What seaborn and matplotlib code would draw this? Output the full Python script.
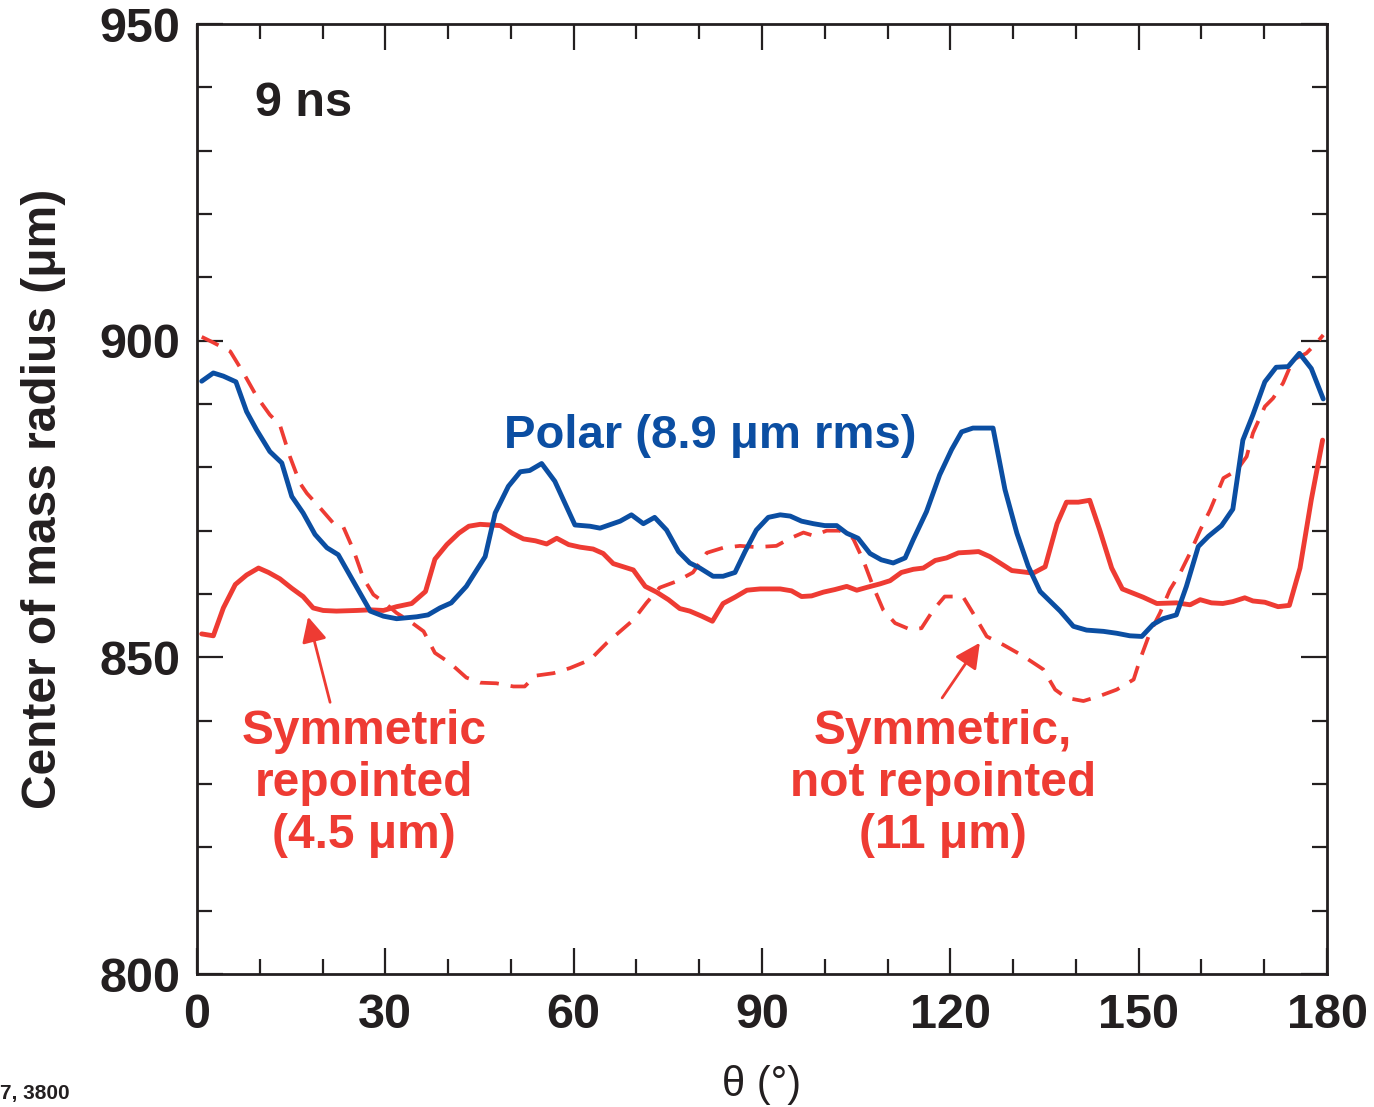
import numpy as np
import pandas as pd
import matplotlib
matplotlib.use("Agg")
import matplotlib.pyplot as plt
from matplotlib.ticker import MultipleLocator
import seaborn as sns

# ---------------- data ----------------
polar_theta = [0.75, 2.6, 4.2, 6.2, 7.9, 9.5, 11.6, 13.5, 15.1, 16.9, 18.8, 20.7, 22.5, 24.9,
               27.6, 29.7, 31.8, 35.0, 36.8, 38.7, 40.5, 42.9, 45.9, 47.5, 49.6, 51.5, 53.0,
               54.9, 57.0, 60.2, 62.6, 64.2, 67.4, 69.2, 71.1, 72.9, 74.8, 76.7, 78.5, 80.1,
               82.2, 83.8, 85.7, 87.3, 89.1, 91.0, 92.9, 94.5, 96.3, 98.2, 100.0, 101.9, 103.5,
               105.3, 107.2, 109.0, 110.9, 112.8, 114.1, 116.2, 118.3, 120.2, 121.8, 123.6,
               126.8, 128.7, 130.6, 132.4, 134.3, 137.5, 139.6, 141.7, 144.4, 146.5, 148.6,
               150.5, 152.3, 153.9, 156.0, 157.6, 159.5, 161.1, 163.2, 165.0, 166.6, 168.2,
               170.1, 171.9, 173.8, 175.6, 177.5, 179.4]
polar_radius = [893.6, 894.9, 894.4, 893.5, 888.8, 885.9, 882.5, 880.7, 875.4, 872.8, 869.4,
                867.3, 866.2, 862.0, 857.3, 856.5, 856.1, 856.4, 856.7, 857.8, 858.6, 861.2,
                865.9, 872.8, 877.0, 879.3, 879.5, 880.6, 877.8, 870.9, 870.7, 870.4, 871.5,
                872.5, 871.1, 872.1, 870.1, 866.7, 864.9, 864.1, 862.8, 862.8, 863.4, 866.7,
                870.1, 872.1, 872.5, 872.3, 871.5, 871.1, 870.8, 870.8, 869.6, 868.8, 866.4,
                865.4, 864.9, 865.7, 868.6, 873.0, 878.8, 882.8, 885.6, 886.2, 886.2, 876.5,
                869.6, 864.4, 860.4, 857.3, 854.9, 854.3, 854.1, 853.8, 853.4, 853.3, 855.2,
                856.1, 856.7, 861.2, 867.5, 869.1, 870.8, 873.4, 884.3, 888.3, 893.5, 895.8,
                895.9, 898.0, 895.6, 890.8]

rep_theta = [0.75, 2.6, 4.2, 6.1, 7.9, 9.8, 11.4, 13.2, 15.1, 16.9, 18.5, 20.1, 22.2, 25.4,
             27.6, 29.7, 31.8, 34.2, 36.4, 37.9, 39.8, 41.7, 43.3, 45.1, 48.3, 50.2, 52.0,
             53.9, 55.7, 57.3, 59.2, 61.0, 63.1, 64.7, 66.3, 69.5, 71.4, 73.2, 75.1, 76.9,
             78.5, 80.4, 82.1, 83.8, 85.7, 87.6, 89.7, 92.9, 94.7, 96.3, 97.9, 99.8, 101.6,
             103.5, 105.1, 106.9, 108.8, 110.4, 112.2, 114.1, 115.7, 117.6, 119.4, 121.3,
             123.1, 124.5, 126.3, 127.9, 129.8, 133.2, 135.1, 137.0, 138.5, 140.4, 142.2,
             143.8, 145.7, 147.4, 150.7, 152.9, 156.0, 158.2, 159.8, 161.6, 163.4, 165.0,
             166.9, 168.2, 170.1, 172.2, 174.0, 175.7, 177.5, 179.3]
rep_radius = [853.7, 853.4, 857.8, 861.5, 863.0, 864.1, 863.4, 862.4, 860.9, 859.6, 857.8,
              857.4, 857.3, 857.4, 857.5, 857.4, 858.0, 858.5, 860.4, 865.5, 867.8, 869.6,
              870.7, 871.0, 870.8, 869.6, 868.7, 868.4, 867.9, 868.8, 867.8, 867.4, 867.1,
              866.4, 864.8, 863.8, 861.2, 860.3, 859.1, 857.7, 857.3, 856.5, 855.7, 858.5,
              859.5, 860.6, 860.8, 860.8, 860.5, 859.6, 859.7, 860.3, 860.7, 861.2, 860.6,
              861.1, 861.6, 862.1, 863.4, 863.9, 864.1, 865.3, 865.7, 866.5, 866.6, 866.7,
              865.9, 864.9, 863.7, 863.3, 864.3, 871.1, 874.5, 874.5, 874.8, 870.1, 864.1,
              860.8, 859.5, 858.5, 858.6, 858.3, 859.1, 858.6, 858.5, 858.8, 859.4, 858.9,
              858.7, 858.0, 858.2, 864.1, 874.9, 884.3]

norep_theta = [0.75, 2.6, 5.3, 7.4, 9.5, 11.6, 13.2, 14.8, 16.4, 17.5, 19.6, 21.7, 23.3, 24.9,
               26.5, 28.1, 29.9, 31.8, 33.9, 36.1, 37.9, 40.3, 42.9, 45.1, 47.7, 50.4, 52.2,
               53.9, 56.8, 59.4, 62.6, 65.3, 67.4, 69.5, 71.6, 73.7, 76.4, 79.0, 81.2, 83.8,
               86.5, 89.1, 92.3, 94.5, 96.6, 98.2, 100.3, 102.4, 104.5, 106.1, 107.7, 109.3,
               111.2, 113.6, 115.4, 117.3, 119.1, 122.0, 123.6, 125.8, 128.4, 131.6, 134.8,
               136.7, 138.5, 141.2, 143.8, 146.5, 149.2, 150.2, 151.8, 153.4, 155.0, 156.6,
               158.2, 159.8, 161.4, 163.5, 165.6, 167.2, 168.2, 170.1, 171.4, 173.0, 174.6,
               176.7, 178.3, 179.4]
norep_radius = [900.6, 899.7, 898.3, 894.9, 891.2, 888.3, 886.7, 881.7, 877.5, 875.9, 873.6,
                871.2, 870.6, 867.0, 862.5, 859.9, 858.6, 857.0, 855.7, 854.1, 850.7, 849.1,
                846.8, 846.0, 845.9, 845.4, 845.4, 847.1, 847.5, 848.3, 849.6, 852.3, 854.1,
                855.9, 858.6, 861.0, 862.0, 863.4, 866.5, 867.3, 867.6, 867.4, 867.6, 868.8,
                869.7, 869.2, 870.0, 870.0, 868.8, 865.4, 861.2, 857.5, 855.4, 854.4, 854.6,
                857.5, 859.6, 859.6, 857.0, 853.3, 852.0, 850.2, 848.1, 844.9, 843.6, 843.1,
                843.9, 844.9, 846.5, 849.6, 853.9, 857.0, 860.7, 863.3, 866.5, 870.1, 873.3,
                878.3, 879.5, 881.7, 885.4, 889.6, 890.9, 893.3, 897.0, 898.0, 899.6, 900.9]

x_ticks = [0, 30, 60, 90, 120, 150, 180]
y_ticks = [800, 850, 900, 950]

BLUE = "#0B4EA2"
RED = "#EE3B33"

# ---------------- style ----------------
sns.set_theme(style="ticks")
plt.rcParams["font.family"] = ["Liberation Sans", "DejaVu Sans"]

fig = plt.figure(figsize=(13.74, 11.07), dpi=100)
ax = fig.add_axes([197 / 1374, 1 - 974 / 1107, (1327 - 197) / 1374, (974 - 24) / 1107])

df_polar = pd.DataFrame({"theta": polar_theta, "radius": polar_radius})
df_rep = pd.DataFrame({"theta": rep_theta, "radius": rep_radius})
df_norep = pd.DataFrame({"theta": norep_theta, "radius": norep_radius})

sns.lineplot(data=df_norep, x="theta", y="radius", ax=ax, color=RED, lw=2.7,
             linestyle=(0, (5, 3.2)), sort=False, estimator=None)
sns.lineplot(data=df_rep, x="theta", y="radius", ax=ax, color=RED, lw=3.5,
             sort=False, estimator=None)
sns.lineplot(data=df_polar, x="theta", y="radius", ax=ax, color=BLUE, lw=3.5,
             sort=False, estimator=None)

ax.set_xlim(0, 180)
ax.set_ylim(800, 950)
ax.set_xticks(x_ticks)
ax.set_yticks(y_ticks)
ax.xaxis.set_minor_locator(MultipleLocator(10))
ax.yaxis.set_minor_locator(MultipleLocator(10))
ax.tick_params(which="both", direction="in", top=True, right=True, color="#231F20")
ax.tick_params(which="major", length=19, width=1.6)
ax.tick_params(which="minor", length=10.5, width=1.6)
ax.tick_params(axis="x", which="major", pad=14, labelsize=35)
ax.tick_params(axis="y", which="major", pad=12, labelsize=35)
for lab in ax.get_xticklabels() + ax.get_yticklabels():
    lab.set_fontweight("bold")
    lab.set_color("#231F20")
for sp in ax.spines.values():
    sp.set_linewidth(2.0)
    sp.set_color("#231F20")

ax.set_xlabel("θ (°)", fontsize=30, color="#231F20", labelpad=19)
ax.set_ylabel("Center of mass radius (μm)", fontsize=34.5, fontweight="bold",
              color="#231F20", labelpad=24)

ax.text(9.2, 937.5, "9 ns", fontsize=35, fontweight="bold", color="#231F20",
        ha="left", va="center")
ax.text(81.7, 884.9, "Polar (8.9 μm rms)", fontsize=34, fontweight="bold",
        color=BLUE, ha="center", va="center")
ax.text(26.6, 830.1, "Symmetric\nrepointed\n(4.5 μm)", fontsize=34.5, fontweight="bold",
        color=RED, ha="center", va="center", linespacing=1.2, multialignment="center")
ax.text(118.8, 830.1, "Symmetric,\nnot repointed\n(11 μm)", fontsize=34.5, fontweight="bold",
        color=RED, ha="center", va="center", linespacing=1.2, multialignment="center")

arrow = dict(arrowstyle="-|>", color=RED, lw=2.0, mutation_scale=38, shrinkA=0, shrinkB=0)
ax.annotate("", xy=(17.7, 856.4), xytext=(21.2, 842.9), arrowprops=arrow)
ax.annotate("", xy=(124.7, 852.3), xytext=(118.7, 843.6), arrowprops=arrow)

fig.text(0.0, 0.004, "7, 3800", fontsize=15, fontweight="bold", color="#231F20",
         ha="left", va="bottom")

fig.savefig("out.png", dpi=100)
